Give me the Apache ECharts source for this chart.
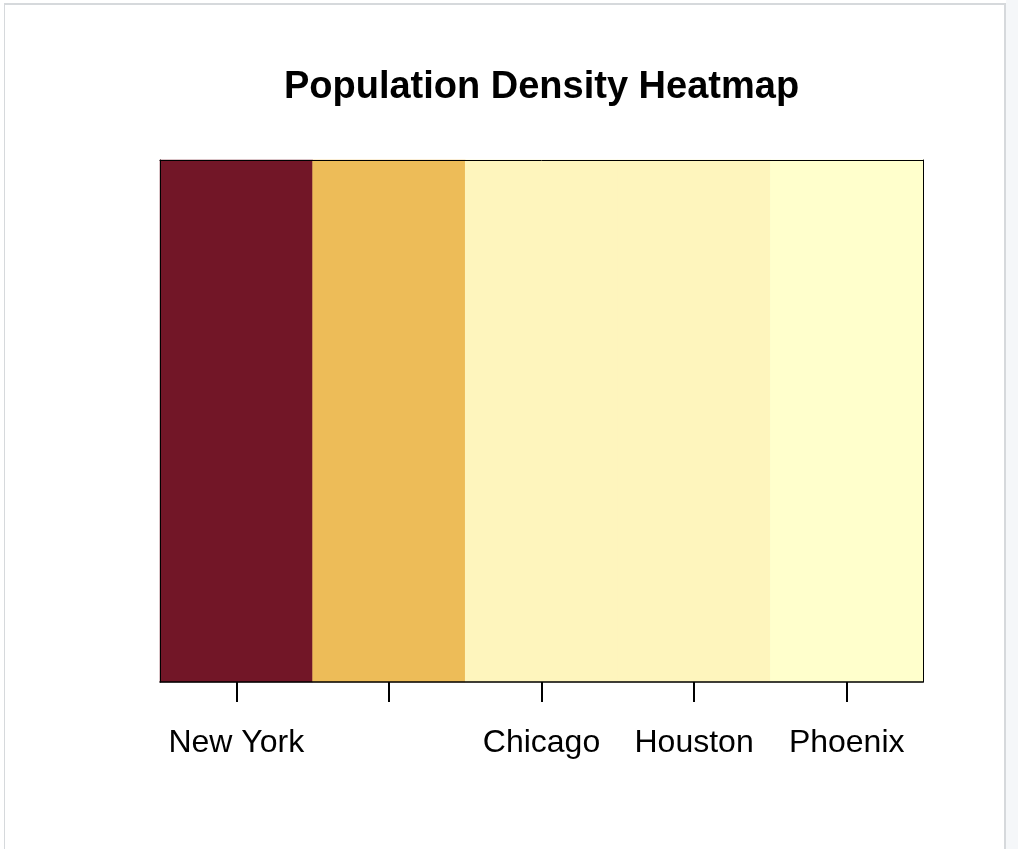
<!DOCTYPE html>
<html>
<head>
<meta charset="utf-8">
<script src="https://cdn.jsdelivr.net/npm/echarts@6/dist/echarts.min.js"></script>
<style>
  html, body { margin: 0; padding: 0; background: #ffffff; width: 1018px; height: 849px; overflow: hidden; }
  #side { position: absolute; left: 1006px; top: 0; width: 12px; height: 849px; background: #f5f7f9; }
  #frame { position: absolute; left: 4px; top: 3px; width: 999px; height: 860px;
           border-left: 1px solid #d6d9dc; border-top: 2px solid #d6d9dc; border-right: 2px solid #d6d9dc; }
  #chart { position: absolute; left: 0; top: 0; width: 1018px; height: 849px; }
</style>
</head>
<body>
<div id="side"></div>
<div id="frame"></div>
<div id="chart"></div>
<script>
// City populations (millions), colour encodes the value
const cities = ['New York', 'Los Angeles', 'Chicago', 'Houston', 'Phoenix'];
const population = [8.4, 3.9, 2.7, 2.3, 1.6];
const rowLabels = [''];
const colorBins = [
  { min: 6, max: 100, color: '#721627' },
  { min: 3, max: 6, color: '#EDBC58' },
  { min: 2, max: 3, color: '#FEF5BD' },
  { min: 0, max: 2, color: '#FFFFCC' }
];
const hiddenLabelIndex = [1]; // label dropped in original because of overlap

const cells = population.map((v, i) => [i, 0, v]);

const chart = echarts.init(document.getElementById('chart'), null, { renderer: 'canvas' });
const font = 'Liberation Sans, Arial, sans-serif';
chart.setOption({
  animation: false,
  backgroundColor: 'transparent',
  title: {
    text: 'Population Density Heatmap',
    left: 541.5,
    textAlign: 'center',
    top: 69,
    padding: 0,
    textStyle: { fontFamily: font, fontWeight: 'bold', fontSize: 38, color: '#000', lineHeight: 38 }
  },
  grid: { left: 160, right: 95, top: 160, bottom: 167, show: false },
  visualMap: {
    show: false,
    type: 'piecewise',
    dimension: 2,
    pieces: colorBins.map(b => ({ gte: b.min, lt: b.max, color: b.color }))
  },
  xAxis: [{
    type: 'category',
    data: cities,
    position: 'bottom',
    z: 10,
    axisLine: { show: true, lineStyle: { color: '#000', width: 1.5 } },
    axisTick: { show: true, interval: 0, alignWithLabel: true, length: 20, lineStyle: { color: '#000', width: 2 } },
    axisLabel: {
      interval: (i) => hiddenLabelIndex.indexOf(i) < 0,
      margin: 45, fontSize: 32, lineHeight: 32, color: '#000', fontFamily: font
    },
    splitLine: { show: false }
  }, {
    type: 'category',
    data: cities,
    position: 'top',
    z: 10,
    axisLine: { show: true, lineStyle: { color: '#000', width: 1 } },
    axisTick: { show: false },
    axisLabel: { show: false }
  }],
  yAxis: [{
    type: 'category',
    data: rowLabels,
    position: 'left',
    z: 10,
    axisLine: { show: true, lineStyle: { color: '#000', width: 1 } },
    axisTick: { show: false },
    axisLabel: { show: false }
  }, {
    type: 'category',
    data: rowLabels,
    position: 'right',
    z: 10,
    axisLine: { show: true, lineStyle: { color: '#000', width: 1 } },
    axisTick: { show: false },
    axisLabel: { show: false }
  }],
  series: [{
    type: 'heatmap',
    xAxisIndex: 0,
    yAxisIndex: 0,
    data: cells,
    itemStyle: { borderWidth: 0 },
    emphasis: { disabled: true }
  }]
});
</script>
</body>
</html>
